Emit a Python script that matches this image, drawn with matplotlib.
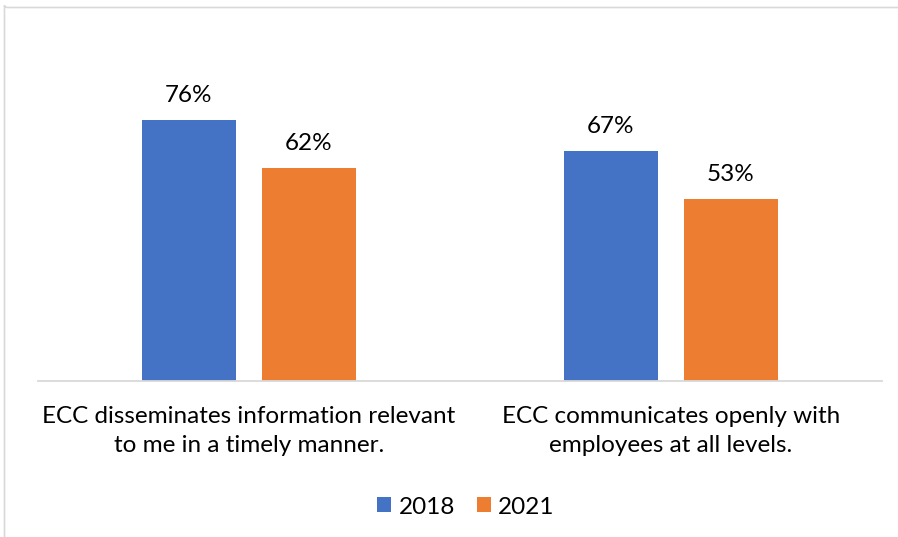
import matplotlib
matplotlib.use("Agg")
import matplotlib.pyplot as plt
from matplotlib.patches import Patch, FancyBboxPatch

categories = ["ECC disseminates information relevant\nto me in a timely manner.",
              "ECC communicates openly with\nemployees at all levels."]
series_names = ["2018", "2021"]
values_2018 = [76, 67]
values_2021 = [62, 53]
colors = ["#4472C4", "#ED7D31"]

plt.rcParams['font.family'] = ['Lato', 'DejaVu Sans']
FS = 17.5

W, H = 898, 537
fig = plt.figure(figsize=(W / 100, H / 100), dpi=100)

# outer chart border
border = FancyBboxPatch((4.5 / W, 1 - 7.5 / H), 2.0, -2.0,
                        boxstyle="round,pad=0,rounding_size=0.004",
                        transform=fig.transFigure, fill=False,
                        edgecolor="#D9D9D9", linewidth=1.2, clip_on=False)
fig.patches.append(border)

ax_left, ax_right = 38 / W, 882 / W
ax_bottom = (H - 381) / H
ax_h = 343.4 / H
ax = fig.add_axes([ax_left, ax_bottom, ax_right - ax_left, ax_h])

x = list(range(len(categories)))
bw = 0.2225
off = 0.142
ax.set_xlim(-0.4994, 1.5)
ax.set_ylim(0, 100)

b1 = ax.bar([i - off for i in x], values_2018, width=bw, color=colors[0], zorder=2)
b2 = ax.bar([i + off for i in x], values_2021, width=bw, color=colors[1], zorder=2)

for bars, vals in ((b1, values_2018), (b2, values_2021)):
    for rect, v in zip(bars, vals):
        ax.annotate(f"{v}%", (rect.get_x() + rect.get_width() / 2, v),
                    xytext=(0, 10), textcoords="offset points",
                    ha="center", va="bottom", fontsize=FS, color="#000000")

for s in ["top", "right", "left"]:
    ax.spines[s].set_visible(False)
ax.spines["bottom"].set_color("#D9D9D9")
ax.spines["bottom"].set_linewidth(1.3)
ax.set_yticks([])
ax.set_xticks(x)
ax.set_xticklabels(categories, fontsize=FS, linespacing=1.5)
ax.tick_params(axis="x", length=0, pad=18)

handles = [Patch(facecolor=c, edgecolor="none") for c in colors]
fig.legend(handles, series_names, loc="center", ncol=2,
           bbox_to_anchor=(466 / W, 1 - 507 / H), frameon=False,
           fontsize=FS, handlelength=0.57, handleheight=0.57,
           handletextpad=0.3, columnspacing=0.9)

fig.savefig("out.png", dpi=100)
